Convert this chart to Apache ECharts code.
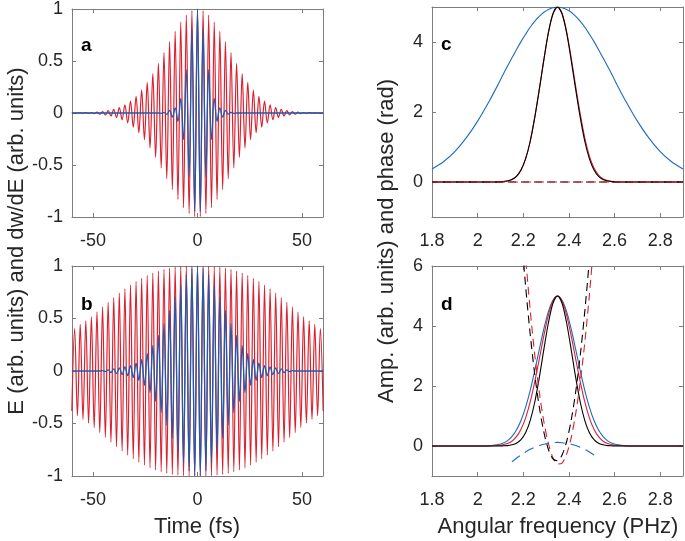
<!DOCTYPE html>
<html><head><meta charset="utf-8">
<script src="https://cdn.jsdelivr.net/npm/echarts@6/dist/echarts.min.js"></script>
<style>html,body{margin:0;padding:0;background:#fff}#c{width:685px;height:541px}</style>
</head><body><div id="c"></div>
<script>
// ---- time-domain panels (a, b): extrema of the oscillating fields ----
const timeFs = [-60.08,-58.74,-57.41,-56.07,-54.74,-53.4,-52.07,-50.73,-49.4,-48.06,-46.73,-45.39,-44.06,-42.72,-41.39,-40.05,-38.72,-37.38,-36.05,-34.71,-33.38,-32.04,-30.71,-29.37,-28.04,-26.7,-25.37,-24.03,-22.7,-21.36,-20.03,-18.69,-17.36,-16.02,-14.69,-13.35,-12.02,-10.68,-9.35,-8.01,-6.68,-5.34,-4.01,-2.67,-1.34,0,1.34,2.67,4.01,5.34,6.68,8.01,9.35,10.68,12.02,13.35,14.69,16.02,17.36,18.69,20.03,21.36,22.7,24.03,25.37,26.7,28.04,29.37,30.71,32.04,33.38,34.71,36.05,37.38,38.72,40.05,41.39,42.72,44.06,45.39,46.73,48.06,49.4,50.73,52.07,53.4,54.74,56.07,57.41,58.74,60.08];

const fieldA = [0,0,0,0.001,-0.002,0.003,-0.004,0.005,-0.007,0.009,-0.011,0.014,-0.018,0.022,-0.028,0.034,-0.042,0.052,-0.064,0.078,-0.094,0.114,-0.136,0.161,-0.189,0.221,-0.256,0.294,-0.336,0.38,-0.428,0.477,-0.528,0.581,-0.633,0.686,-0.736,0.785,-0.831,0.873,-0.91,0.941,-0.967,0.985,-0.996,1,-0.996,0.985,-0.967,0.941,-0.91,0.873,-0.831,0.785,-0.736,0.686,-0.633,0.581,-0.528,0.477,-0.428,0.38,-0.336,0.294,-0.256,0.221,-0.189,0.161,-0.136,0.114,-0.094,0.078,-0.064,0.052,-0.042,0.034,-0.028,0.022,-0.018,0.014,-0.011,0.009,-0.007,0.005,-0.004,0.003,-0.002,0.001,0,0,0];

const dwdeA = [0,0,0,0,0,0,0,0,0,0,0,0,0,0,0,0,0,0,0,0,0,0,0,0,0,0,0,0,0,0,0,0,-0.003,0.006,-0.012,0.025,-0.04,0.05,-0.08,0.141,-0.256,0.418,-0.612,0.804,-0.947,1,-0.947,0.804,-0.612,0.418,-0.256,0.141,-0.08,0.05,-0.04,0.025,-0.012,0.006,-0.003,0,0,0,0,0,0,0,0,0,0,0,0,0,0,0,0,0,0,0,0,0,0,0,0,0,0,0,0,0,0,0,0];

const fieldB = [-0.38,0.405,-0.425,0.445,-0.461,0.478,-0.497,0.517,-0.54,0.563,-0.587,0.61,-0.633,0.655,-0.678,0.7,-0.721,0.742,-0.762,0.782,-0.801,0.819,-0.836,0.853,-0.868,0.883,-0.897,0.91,-0.922,0.933,-0.943,0.952,-0.96,0.968,-0.974,0.98,-0.985,0.989,-0.992,0.995,-0.997,0.998,-0.999,1,-1,1,-1,1,-0.999,0.998,-0.997,0.995,-0.992,0.989,-0.985,0.98,-0.974,0.968,-0.96,0.952,-0.943,0.933,-0.922,0.91,-0.897,0.883,-0.868,0.853,-0.836,0.819,-0.801,0.782,-0.762,0.742,-0.721,0.7,-0.678,0.655,-0.633,0.61,-0.587,0.563,-0.54,0.517,-0.497,0.478,-0.461,0.445,-0.425,0.405,-0.38];

const dwdeB = [0,0,0,0,0,0,0,0,0,0,0,0.003,-0.006,0.01,-0.015,0.02,-0.025,0.03,-0.035,0.04,-0.045,0.052,-0.062,0.075,-0.09,0.111,-0.137,0.168,-0.204,0.245,-0.29,0.34,-0.395,0.453,-0.514,0.577,-0.64,0.703,-0.764,0.82,-0.872,0.916,-0.952,0.978,-0.995,1,-0.995,0.978,-0.952,0.916,-0.872,0.82,-0.764,0.703,-0.64,0.577,-0.514,0.453,-0.395,0.34,-0.29,0.245,-0.204,0.168,-0.137,0.111,-0.09,0.075,-0.062,0.052,-0.045,0.04,-0.035,0.03,-0.025,0.02,-0.015,0.01,-0.006,0.003,0,0,0,0,0,0,0,0,0,0,0];

// ---- frequency-domain panels (c, d) ----
const freqPHz = [1.80,1.85,1.90,1.95,2.00,2.05,2.09,2.11,2.13,2.15,2.17,2.19,2.21,2.23,2.25,2.27,2.29,2.31,2.33,2.35,2.37,2.39,2.41,2.43,2.45,2.47,2.49,2.51,2.53,2.55,2.57,2.59,2.61,2.65,2.70,2.75,2.80,2.85,2.90];

const ampBlueC  = [0.37,0.58,0.87,1.26,1.74,2.30,2.79,3.05,3.30,3.54,3.78,4.01,4.22,4.42,4.59,4.73,4.85,4.93,4.98,5.00,4.98,4.93,4.85,4.73,4.59,4.42,4.22,4.01,3.78,3.54,3.30,3.05,2.79,2.30,1.74,1.26,0.87,0.58,0.37];
const ampRedC   = [0,0,0,0,0,0,0,0.01,0.03,0.07,0.16,0.34,0.66,1.15,1.84,2.64,3.49,4.27,4.81,5.00,4.82,4.30,3.55,2.72,1.93,1.25,0.74,0.40,0.20,0.09,0.04,0.015,0.005,0,0,0,0,0,0];
const ampBlackC = [0,0,0,0,0,0,0,0.01,0.03,0.07,0.16,0.34,0.66,1.15,1.83,2.63,3.48,4.26,4.80,5.00,4.80,4.26,3.48,2.63,1.83,1.15,0.66,0.34,0.16,0.07,0.03,0.01,0,0,0,0,0,0,0];
const phaseFreqC = [1.8, 2.9];
const phaseRedC = [0, 0];
const phaseBlackC = [0, 0];

const ampBlueD  = [0,0,0,0,0,0.01,0.05,0.09,0.17,0.31,0.53,0.85,1.29,1.84,2.50,3.21,3.90,4.48,4.86,5.00,4.86,4.48,3.90,3.21,2.50,1.84,1.29,0.85,0.53,0.31,0.17,0.09,0.05,0.01,0,0,0,0,0];
const ampRedD   = [0,0,0,0,0,0,0.015,0.04,0.08,0.16,0.31,0.56,0.93,1.46,2.13,2.89,3.67,4.36,4.83,5.00,4.83,4.36,3.67,2.89,2.13,1.46,0.93,0.56,0.31,0.16,0.08,0.04,0.015,0,0,0,0,0,0];
const ampBlackD = [0,0,0,0,0,0,0,0.005,0.013,0.04,0.09,0.21,0.44,0.84,1.45,2.27,3.21,4.10,4.76,5.00,4.76,4.10,3.21,2.27,1.45,0.84,0.44,0.21,0.09,0.04,0.013,0.005,0,0,0,0,0,0,0];

const phaseFreqD = [2.19,2.21,2.23,2.25,2.27,2.29,2.31,2.33,2.35,2.37,2.39,2.41,2.43,2.45,2.47,2.49,2.51];
const phaseBlackD = [7.21,5.35,3.75,2.40,1.31,0.47,-0.11,-0.43,-0.49,-0.30,0.15,0.86,1.82,3.04,4.52,6.25,8.24];
const phaseRedD   = [8.33,6.32,4.56,3.06,1.81,0.82,0.09,-0.39,-0.60,-0.57,-0.27,0.28,1.09,2.16,3.48,5.06,6.89];
const phaseFreqBlueD = [2.15,2.17,2.19,2.21,2.23,2.25,2.27,2.29,2.31,2.33,2.35,2.37,2.39,2.41,2.43,2.45,2.47,2.49,2.51,2.53];
const phaseBlueD = [-0.53,-0.41,-0.30,-0.20,-0.11,-0.04,0.02,0.06,0.09,0.11,0.12,0.11,0.09,0.06,0.02,-0.04,-0.11,-0.20,-0.30,-0.41];

// ---- tick labels ----
const timeTicks = [-50, 0, 50];
const fieldTicks = [-1, -0.5, 0, 0.5, 1];
const freqTicks = [1.8, 2, 2.2, 2.4, 2.6, 2.8];
const ampTicksC = [0, 2, 4];
const ampTicksD = [0, 2, 4, 6];
const panelLetters = ['a', 'b', 'c', 'd'];
const xTitles = ['Time (fs)', 'Angular frequency (PHz)'];
const yTitles = ['E (arb. units) and dw/dE (arb. units)', 'Amp. (arb. units) and phase (rad)'];

// ---- styling ----
const FONT = '"Liberation Sans", Arial, Helvetica, sans-serif';
const AX = '#7d7d7d', TXT = '#262626';
const RED = '#dc1f2e', BLUE = '#1c6cbf', DARKBLUE = '#1f5aad', BLACK = '#000000';
const grids = [
  {left: 72, top: 7, width: 251, height: 210},
  {left: 72, top: 266, width: 251, height: 210},
  {left: 432, top: 7, width: 251, height: 210},
  {left: 432, top: 266, width: 251, height: 210}
];

function axisPair(dim, gi, min, max, ticks) {
  const base = {
    gridIndex: gi, type: 'value', min: min, max: max, splitLine: {show: false},
    axisLine: {show: true, onZero: false, lineStyle: {color: AX, width: 1}},
    axisTick: {show: true, inside: true, length: 4, customValues: ticks, lineStyle: {color: AX}}
  };
  const main = Object.assign({}, base, {
    position: dim === 'x' ? 'bottom' : 'left',
    axisLabel: {show: true, customValues: ticks, fontFamily: FONT, fontSize: 18, color: TXT, margin: dim === 'x' ? 15 : 9}
  });
  const mirror = Object.assign({}, base, {position: dim === 'x' ? 'top' : 'right', axisLabel: {show: false}});
  return [main, mirror];
}

const xAxis = [].concat(
  axisPair('x', 0, -60, 60, timeTicks),
  axisPair('x', 1, -60, 60, timeTicks),
  axisPair('x', 2, 1.8, 2.9, freqTicks),
  axisPair('x', 3, 1.8, 2.9, freqTicks)
);
const yAxis = [].concat(
  axisPair('y', 0, -1, 1, fieldTicks),
  axisPair('y', 1, -1, 1, fieldTicks),
  axisPair('y', 2, -1, 5, ampTicksC),
  axisPair('y', 3, -1, 6, ampTicksD)
);

function zip(xs, ys) { return xs.map((x, i) => [x, ys[i]]); }
function line(panel, xs, ys, color, opts) {
  opts = opts || {};
  return {
    type: 'line', xAxisIndex: panel * 2, yAxisIndex: panel * 2,
    data: zip(xs, ys), showSymbol: false, symbol: 'none', silent: true, clip: true,
    smooth: opts.smooth === undefined ? 0.35 : opts.smooth,
    lineStyle: {color: color, width: opts.width || 1.1, type: opts.type || 'solid', dashOffset: opts.offset || 0},
    z: opts.z || 2
  };
}

const series = [
  line(0, timeFs, fieldA, RED, {width: 1.2}),
  line(0, timeFs, dwdeA, DARKBLUE, {width: 1.3}),
  line(1, timeFs, fieldB, RED, {width: 1.2}),
  line(1, timeFs, dwdeB, DARKBLUE, {width: 1.3}),
  line(2, freqPHz, ampBlueC, BLUE, {smooth: 0.3}),
  line(2, freqPHz, ampRedC, RED, {smooth: 0.3}),
  line(2, freqPHz, ampBlackC, BLACK, {smooth: 0.3}),
  line(2, phaseFreqC, phaseBlackC, BLACK, {type: [8, 5], offset: 2, smooth: false}),
  line(2, phaseFreqC, phaseRedC, RED, {type: [8, 5], smooth: false}),
  line(3, freqPHz, ampBlueD, BLUE, {smooth: 0.3}),
  line(3, freqPHz, ampRedD, RED, {smooth: 0.3}),
  line(3, freqPHz, ampBlackD, BLACK, {smooth: 0.3}),
  line(3, phaseFreqD, phaseRedD, RED, {type: [8, 5], smooth: 0.3}),
  line(3, phaseFreqD, phaseBlackD, BLACK, {type: [8, 5], offset: 5, smooth: 0.3}),
  line(3, phaseFreqBlueD, phaseBlueD, BLUE, {type: [10, 6], smooth: 0.3})
];

const graphic = [];
const letterPos = [[81, 36], [81, 295], [441, 35], [441, 295]];
panelLetters.forEach((t, i) => graphic.push({type: 'text', x: letterPos[i][0], y: letterPos[i][1], silent: true,
  style: {text: t, font: 'bold 19px ' + FONT, fill: '#000', align: 'left', verticalAlign: 'alphabetic'}}));
graphic.push({type: 'text', x: 197, y: 527, silent: true,
  style: {text: xTitles[0], font: '22px ' + FONT, fill: TXT, align: 'center', verticalAlign: 'middle'}});
graphic.push({type: 'text', x: 558, y: 527, silent: true,
  style: {text: xTitles[1], font: '22px ' + FONT, fill: TXT, align: 'center', verticalAlign: 'middle'}});
graphic.push({type: 'text', x: 17, y: 241, rotation: Math.PI / 2, silent: true,
  style: {text: yTitles[0], font: '22px ' + FONT, fill: TXT, align: 'center', verticalAlign: 'middle'}});
graphic.push({type: 'text', x: 387, y: 241, rotation: Math.PI / 2, silent: true,
  style: {text: yTitles[1], font: '22px ' + FONT, fill: TXT, align: 'center', verticalAlign: 'middle'}});

const chart = echarts.init(document.getElementById('c'), null, {renderer: 'canvas'});
chart.setOption({
  animation: false, backgroundColor: '#ffffff',
  grid: grids, xAxis: xAxis, yAxis: yAxis, series: series, graphic: graphic
});
</script></body></html>
